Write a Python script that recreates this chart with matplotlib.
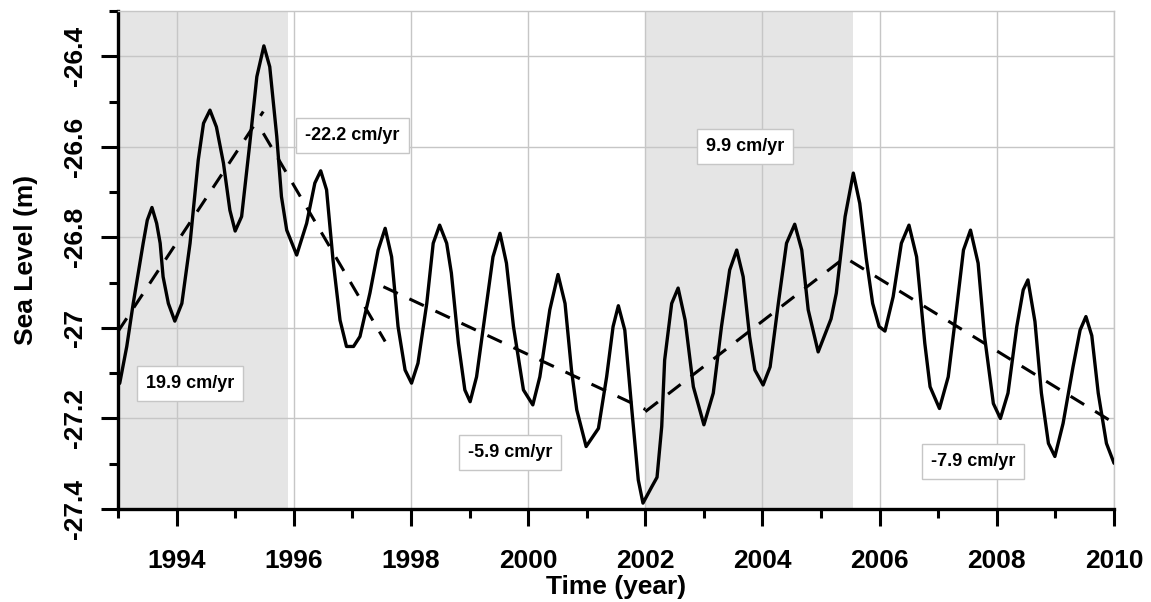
import numpy as np
import matplotlib
matplotlib.use("Agg")
import matplotlib.pyplot as plt
from matplotlib.ticker import MultipleLocator, FuncFormatter

# sea level readings (decimal year, metres)
years = [
    1993.00, 1993.03, 1993.15, 1993.26, 1993.43, 1993.50, 1993.58, 1993.66, 1993.72, 1993.77,
    1993.86, 1993.97, 1994.09, 1994.23, 1994.37, 1994.46, 1994.57, 1994.68, 1994.80, 1994.91,
    1995.00, 1995.11, 1995.25, 1995.37, 1995.49, 1995.59, 1995.71, 1995.79, 1995.88, 1996.05,
    1996.22, 1996.36, 1996.46, 1996.56, 1996.67, 1996.79, 1996.90, 1997.02, 1997.13, 1997.30,
    1997.44, 1997.56, 1997.67, 1997.78, 1997.90, 1998.01, 1998.12, 1998.27, 1998.38, 1998.49,
    1998.61, 1998.69, 1998.81, 1998.92, 1999.01, 1999.12, 1999.26, 1999.40, 1999.52, 1999.63,
    1999.75, 1999.92, 2000.08, 2000.20, 2000.37, 2000.51, 2000.63, 2000.74, 2000.83, 2000.99,
    2001.20, 2001.34, 2001.45, 2001.54, 2001.65, 2001.77, 2001.88, 2001.96, 2002.11, 2002.20,
    2002.28, 2002.33, 2002.45, 2002.56, 2002.68, 2002.82, 2003.00, 2003.16, 2003.30, 2003.44,
    2003.56, 2003.67, 2003.78, 2003.87, 2004.01, 2004.13, 2004.27, 2004.41, 2004.55, 2004.67,
    2004.78, 2004.95, 2005.17, 2005.26, 2005.41, 2005.55, 2005.66, 2005.77, 2005.88, 2005.99,
    2006.09, 2006.23, 2006.37, 2006.50, 2006.63, 2006.77, 2006.86, 2007.02, 2007.17, 2007.31,
    2007.43, 2007.55, 2007.68, 2007.79, 2007.94, 2008.06, 2008.19, 2008.34, 2008.45, 2008.53,
    2008.65, 2008.76, 2008.88, 2008.99, 2009.13, 2009.30, 2009.42, 2009.52, 2009.62, 2009.73,
    2009.87, 2010.00,
]
level = [
    -27.126, -27.122, -27.041, -26.946, -26.813, -26.762, -26.734, -26.769, -26.813, -26.887,
    -26.946, -26.985, -26.946, -26.813, -26.629, -26.548, -26.519, -26.556, -26.636, -26.740,
    -26.786, -26.754, -26.592, -26.445, -26.377, -26.423, -26.577, -26.710, -26.784, -26.839,
    -26.769, -26.680, -26.653, -26.695, -26.850, -26.983, -27.041, -27.041, -27.019, -26.923,
    -26.828, -26.780, -26.843, -26.997, -27.093, -27.122, -27.078, -26.946, -26.813, -26.773,
    -26.813, -26.879, -27.034, -27.137, -27.163, -27.108, -26.975, -26.843, -26.791, -26.857,
    -26.997, -27.137, -27.170, -27.108, -26.960, -26.882, -26.946, -27.093, -27.181, -27.262,
    -27.222, -27.108, -26.997, -26.951, -27.005, -27.181, -27.336, -27.387, -27.351, -27.330,
    -27.218, -27.071, -26.946, -26.912, -26.983, -27.130, -27.214, -27.144, -26.997, -26.872,
    -26.828, -26.887, -27.019, -27.093, -27.126, -27.086, -26.946, -26.813, -26.771, -26.828,
    -26.960, -27.053, -26.980, -26.923, -26.754, -26.658, -26.725, -26.846, -26.946, -26.997,
    -27.007, -26.931, -26.813, -26.773, -26.843, -27.034, -27.130, -27.178, -27.108, -26.960,
    -26.828, -26.784, -26.857, -27.019, -27.167, -27.200, -27.144, -26.997, -26.916, -26.894,
    -26.986, -27.144, -27.255, -27.284, -27.211, -27.086, -27.005, -26.975, -27.017, -27.144,
    -27.255, -27.299,
]

# piecewise linear trends
trend_start_year = [1993.00, 1995.48, 1997.53, 2002.00, 2005.50]
trend_end_year = [1995.48, 1997.56, 2002.00, 2005.45, 2010.00]
trend_start_level = [-27.008, -26.570, -26.909, -27.185, -26.852]
trend_end_level = [-26.522, -27.030, -27.180, -26.840, -27.210]
trend_labels = ["19.9 cm/yr", "-22.2 cm/yr", "-5.9 cm/yr", "9.9 cm/yr", "-7.9 cm/yr"]

# shaded periods
shade_periods = [(1993.0, 1995.90), (2002.01, 2005.54)]

# where the rate boxes sit (year, level)
label_pos = [(1994.23, -27.122), (1997.00, -26.574), (1999.69, -27.276),
             (2003.70, -26.600), (2007.59, -27.296)]

plt.rcParams['font.family'] = ['Liberation Sans', 'DejaVu Sans']
plt.rcParams['font.weight'] = 'bold'
plt.rcParams['axes.unicode_minus'] = False

fig = plt.figure(figsize=(11.51, 6.02), dpi=100)
ax = fig.add_axes([0.1025, 0.1545, 0.8654, 0.8272])

grid_col = '#c6c6c6'
for a, b in shade_periods:
    ax.axvspan(a, b, color='#e5e5e5', lw=0, zorder=0.2)

ax.plot(years, level, color='black', lw=2.4, zorder=3,
        solid_joinstyle='round', solid_capstyle='round')

for x0, x1, y0, y1 in zip(trend_start_year, trend_end_year, trend_start_level, trend_end_level):
    ax.plot([x0, x1], [y0, y1], color='black', lw=2.2, dashes=(5.2, 4.2),
            dash_capstyle='butt', zorder=3)

for txt, (x, y) in zip(trend_labels, label_pos):
    ax.text(x, y, txt, ha='center', va='center', fontsize=13, fontweight='bold', zorder=4,
            bbox=dict(boxstyle='square,pad=0.5', fc='white', ec=grid_col, lw=1))

ax.set_xlim(1993, 2010)
ax.set_ylim(-27.4, -26.3)

ax.xaxis.set_major_locator(MultipleLocator(2))
ax.xaxis.set_minor_locator(MultipleLocator(1))
ax.yaxis.set_major_locator(MultipleLocator(0.2))
ax.yaxis.set_minor_locator(MultipleLocator(0.1))
ax.xaxis.set_major_formatter(FuncFormatter(lambda v, p: '%d' % round(v)))
ax.yaxis.set_major_formatter(FuncFormatter(lambda v, p: '%g' % round(v, 1)))

ax.set_axisbelow(True)
ax.grid(True, which='major', color=grid_col, lw=1.0, zorder=0.5)

ax.tick_params(axis='both', which='major', length=12.5, width=2.2, direction='out',
               labelsize=19, colors='black')
ax.tick_params(axis='both', which='minor', length=6.5, width=2.2, direction='out')
ax.tick_params(axis='x', which='major', pad=16)
ax.tick_params(axis='y', which='major', pad=10)
for lab in ax.get_yticklabels():
    lab.set_rotation(90)
    lab.set_va('center')
for lab in ax.get_xticklabels() + ax.get_yticklabels():
    lab.set_fontweight('bold')

for side in ['left', 'bottom']:
    ax.spines[side].set_linewidth(2.4)
    ax.spines[side].set_color('black')
for side in ['top', 'right']:
    ax.spines[side].set_linewidth(1.0)
    ax.spines[side].set_color(grid_col)

ax.set_xlabel('Time (year)', fontsize=19, fontweight='bold')
ax.set_ylabel('Sea Level (m)', fontsize=19, fontweight='bold')
ax.xaxis.set_label_coords(0.5, -0.1325)
ax.yaxis.set_label_coords(-0.080, 0.5)

fig.savefig('out.png', dpi=100)
